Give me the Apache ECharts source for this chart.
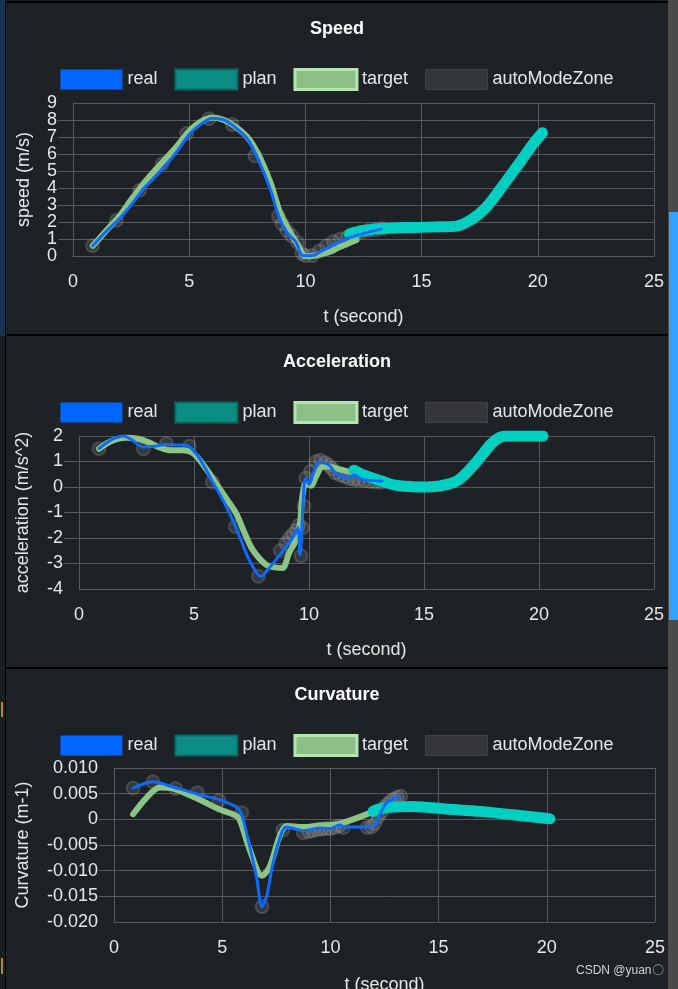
<!DOCTYPE html>
<html><head><meta charset="utf-8">
<script src="https://cdn.jsdelivr.net/npm/echarts@6/dist/echarts.min.js"></script>
<style>
html,body{margin:0;padding:0;background:#1e2226;width:678px;height:989px;overflow:hidden;}
#chart{position:absolute;left:6px;top:0;width:662px;height:989px;}
.ln{position:absolute;background:#000;pointer-events:none;z-index:5}
.bx{position:absolute;pointer-events:none}
</style></head><body>
<div class="bx" style="left:0;top:0;width:5px;height:336px;background:#163556"></div>
<div class="bx" style="left:0;top:336px;width:5px;height:653px;background:#1b1e21"></div>
<div class="bx" style="left:1px;top:702px;width:2px;height:15px;background:#b58c1c"></div>
<div class="bx" style="left:1px;top:958px;width:2px;height:16px;background:#b58c1c"></div>
<div class="bx" style="left:668px;top:0;width:10px;height:989px;background:#4a4a4a"></div>
<div class="bx" style="left:669px;top:212px;width:9px;height:408px;background:#33a1ff"></div>
<div id="chart"></div>
<div class="ln" style="left:5px;top:0;width:1px;height:989px"></div>
<div class="ln" style="left:5px;top:1px;width:663px;height:2px"></div>
<div class="ln" style="left:5px;top:334px;width:663px;height:2px"></div>
<div class="ln" style="left:5px;top:667px;width:663px;height:2px"></div>
<script>
// ---------- DATA ----------
const legendNames = ['real', 'plan', 'target', 'autoModeZone'];
const chartTitles = ['Speed', 'Acceleration', 'Curvature'];
const yNames = ['speed (m/s)', 'acceleration (m/s^2)', 'Curvature (m-1)'];
const xName = 't (second)';

// Speed [t, v]
const speedReal = [[0.85,0.6],[1.5,1.55],[2,2.2],[2.5,3.0],[3,3.9],[3.5,4.6],[4,5.35],[4.5,6.2],[5,7.15],[5.5,7.75],[6,8.1],[6.5,8.0],[7,7.55],[7.5,6.9],[8,5.6],[8.5,3.9],[8.85,2.35],[9.2,1.4],[9.6,0.8],[9.85,0.05],[10.1,0.02],[10.4,0.06],[10.7,0.3],[11.06,0.55],[11.4,0.8],[11.78,1.04],[12.5,1.33],[13.25,1.58]];
const speedTarget = [[0.85,0.6],[1.5,1.6],[2,2.35],[2.5,3.3],[3,4.2],[3.5,5.0],[4,5.75],[4.5,6.5],[5,7.35],[5.5,7.9],[6,8.15],[6.5,8.0],[7,7.6],[7.5,7.0],[8,5.9],[8.5,4.3],[8.9,2.6],[9.3,1.5],[9.7,0.6],[10.0,-0.03],[10.3,0.0],[10.7,0.12],[11.06,0.25],[11.5,0.55],[11.78,0.7],[12.2,0.94]];
const speedPlan = [[11.9,1.3],[12.5,1.5],[13.2,1.62],[14,1.66],[14.7,1.68],[15.8,1.72],[16.5,1.76],[17.2,2.2],[17.8,2.9],[18.5,4.15],[19.25,5.54],[19.8,6.6],[20.2,7.25]];
const speedAuto = [[0.84,0.6],[1.87,2.1],[2.87,3.87],[3.85,5.44],[4.89,7.2],[5.85,8.08],[6.85,7.73],[7.83,5.89],[8.84,2.35],[9.0,1.9],[9.2,1.5],[9.4,1.2],[9.67,0.78],[9.85,0.15],[10.0,0.02],[10.3,0.03],[10.6,0.3],[10.9,0.6],[11.2,0.85],[11.5,1.0],[11.8,1.12],[12.1,1.3],[12.4,1.4],[12.7,1.5],[13.0,1.55],[13.3,1.6]];

// Acceleration [t, a]
const accelReal = [[0.87,1.51],[1.4,1.85],[1.92,2.0],[2.3,1.85],[2.78,1.57],[3.3,1.6],[3.8,1.67],[4.3,1.65],[4.66,1.64],[5.09,1.31],[5.45,0.8],[5.81,0.2],[6.25,-0.5],[6.68,-1.29],[7.05,-2.1],[7.4,-2.86],[7.91,-3.51],[8.2,-3.25],[8.56,-2.86],[9.0,-2.35],[9.42,-1.81],[9.52,-1.6],[9.61,-2.66],[9.78,0.0],[9.86,0.33],[10.0,0.1],[10.2,0.55],[10.43,0.98],[10.87,0.86],[11.15,0.54],[11.5,0.4],[11.73,0.33],[11.95,0.47],[12.3,0.3],[13.17,0.24]];
const accelTarget = [[0.87,1.5],[1.4,1.8],[2.06,1.93],[2.6,1.88],[3.06,1.74],[3.5,1.55],[3.94,1.44],[4.5,1.44],[5.0,1.3],[5.5,0.75],[5.96,0.14],[6.4,-0.45],[6.83,-1.03],[7.2,-1.8],[7.55,-2.46],[8.13,-3.05],[8.5,-3.15],[8.85,-3.18],[9.13,-2.6],[9.42,-2.1],[9.6,-1.5],[9.71,-0.38],[9.86,0.14],[10.1,0.05],[10.3,0.4],[10.58,0.79],[10.87,0.8],[11.3,0.7],[11.73,0.6],[12.0,0.55]];
const accelPlan = [[11.95,0.66],[12.3,0.5],[13.03,0.27],[13.75,0.07],[14.5,0.01],[15.1,0.0],[15.77,0.05],[16.49,0.27],[17.22,0.92],[17.93,1.7],[18.3,1.95],[18.66,2.0],[19.5,2.0],[20.17,2.0]];
const accelAuto = [[0.87,1.5],[1.9,2.05],[2.8,1.5],[3.8,1.7],[4.8,1.6],[5.8,0.2],[6.8,-1.55],[7.8,-3.5],[8.75,-2.5],[9.0,-2.2],[9.15,-2.0],[9.3,-1.85],[9.45,-1.7],[9.55,-1.5],[9.65,-2.7],[9.72,-1.6],[9.78,-0.75],[9.86,0.35],[10.07,0.62],[10.3,1.0],[10.5,1.05],[10.7,0.95],[10.87,0.85],[11.0,0.72],[11.15,0.55],[11.35,0.47],[11.55,0.4],[11.75,0.33],[11.95,0.3],[12.15,0.28],[12.4,0.25],[12.65,0.22],[12.9,0.2],[13.15,0.18]];

// Curvature [t, k]
const curvReal = [[0.88,0.0061],[1.8,0.0073],[2.73,0.0063],[3.96,0.0048],[4.89,0.0038],[5.66,0.0024],[5.9,0.0009],[6.2,-0.004],[6.58,-0.0111],[6.84,-0.017],[7.05,-0.015],[7.35,-0.0085],[7.74,-0.0027],[7.97,-0.0015],[8.74,-0.0022],[9.51,-0.0017],[9.97,-0.0018],[10.43,-0.0011],[10.64,-0.0015],[11.97,-0.0014],[12.28,0.0009],[12.59,0.0032],[13.2,0.0045]];
const curvTarget = [[0.88,0.001],[1.5,0.0042],[2.11,0.0062],[2.73,0.006],[3.96,0.0038],[4.89,0.0019],[5.55,0.0009],[5.8,0.0],[6.27,-0.0059],[6.84,-0.011],[7.2,-0.0092],[7.65,-0.0033],[7.97,-0.0013],[8.74,-0.0015],[9.51,-0.0012],[10.3,-0.001],[11.05,0.0],[11.9,0.00135],[12.1,0.0017]];
const curvPlan = [[11.97,0.00155],[12.43,0.0022],[13.82,0.0025],[15.37,0.002],[16.91,0.00155],[18.45,0.0009],[20.14,0.0001]];
const curvAuto = [[0.88,0.0061],[1.8,0.0073],[2.84,0.006],[3.85,0.0052],[4.85,0.0037],[5.9,0.0013],[6.84,-0.017],[7.8,-0.0021],[8.75,-0.0026],[9.0,-0.0024],[9.2,-0.0022],[9.4,-0.002],[9.6,-0.0019],[9.8,-0.0018],[10.0,-0.0018],[10.2,-0.0016],[10.4,-0.0013],[10.6,-0.0016],[11.7,-0.0016],[11.9,-0.0015],[12.05,-0.0008],[12.2,0.0004],[12.35,0.0014],[12.5,0.0024],[12.65,0.003],[12.8,0.0036],[12.95,0.004],[13.1,0.0043],[13.25,0.0045]];

// axis ranges
const yRanges = [{min:0,max:9,interval:1},{min:-4,max:2,interval:1},{min:-0.02,max:0.01,interval:0.005}];

// ---------- STYLE ----------
const FONT = '"Liberation Sans", Arial, sans-serif';
const TXT = '#e6e6e6';
const GRIDC = '#575a5d';
const grids = [
  {left:67, top:103, width:581, height:153},
  {left:73, top:436, width:575, height:153},
  {left:108, top:768, width:541, height:154}
];
const titleTops = [20, 353, 686];
const legendTops = [68, 401, 734];
const yNameGaps = [40, 47, 82];
const xNameGaps = [52, 52, 54];

const chart = echarts.init(document.getElementById('chart'), null, {renderer:'canvas'});

const legendData = [
  {name:'real', itemStyle:{color:'#0066ff', borderWidth:0}},
  {name:'plan', itemStyle:{color:'#0b8d84', borderColor:'#086b64', borderWidth:2}},
  {name:'target', itemStyle:{color:'#8cc088', borderColor:'#b5e6ad', borderWidth:3}},
  {name:'autoModeZone', itemStyle:{color:'#393c40', borderColor:'#46494d', borderWidth:1}}
];

const datasets = [
  [speedReal, speedPlan, speedTarget, speedAuto],
  [accelReal, accelPlan, accelTarget, accelAuto],
  [curvReal, curvPlan, curvTarget, curvAuto]
];

const fmtY = (i) => (v) => {
  if (i === 2) return Math.abs(v) < 1e-9 ? '0' : v.toFixed(3);
  return String(v);
};
const isEnd = (i, v) => Math.abs(v - yRanges[i].min) < 1e-9 || Math.abs(v - yRanges[i].max) < 1e-9;

const labelBase = {color: TXT, fontSize: 18, fontFamily: FONT, margin: 16, hideOverlap: false};

// primary y axes: ticks, grid lines, inner labels
const yPrimary = grids.map((g, i) => ({
  type: 'value', gridIndex: i, position: 'left',
  min: yRanges[i].min, max: yRanges[i].max, interval: yRanges[i].interval,
  name: yNames[i], nameLocation: 'middle', nameGap: yNameGaps[i], nameRotate: 90, nameMoveOverlap: false,
  nameTextStyle: {color: TXT, fontSize: 18, fontFamily: FONT},
  axisLine: {show: true, lineStyle: {color: GRIDC}},
  axisTick: {show: true, length: 15, lineStyle: {color: GRIDC}},
  axisLabel: Object.assign({}, labelBase, {showMinLabel: false, showMaxLabel: false, formatter: fmtY(i)}),
  splitLine: {show: true, lineStyle: {color: GRIDC, width: 1}}
}));
// overlay y axes: only the end labels (min / max)
const yEnds = grids.map((g, i) => ({
  type: 'value', gridIndex: i, position: 'left', offset: 0,
  min: yRanges[i].min, max: yRanges[i].max, interval: yRanges[i].interval,
  axisLine: {show: false}, axisTick: {show: false}, splitLine: {show: false},
  axisLabel: Object.assign({}, labelBase, {showMinLabel: true, showMaxLabel: true,
    formatter: (v) => isEnd(i, v) ? fmtY(i)(v) : ''})
}));

const option = {
  backgroundColor: '#1e2226',
  animation: false,
  textStyle: {fontFamily: FONT},
  title: chartTitles.map((t, i) => ({
    text: t, left: 'center', top: titleTops[i], padding: 0,
    textStyle: {color: '#ffffff', fontSize: 18, fontWeight: 'bold', fontFamily: FONT}
  })),
  legend: legendTops.map((tp) => ({
    top: tp, left: 'center', padding: 0, orient: 'horizontal',
    icon: 'rect', itemWidth: 62, itemHeight: 20, itemGap: 17,
    textStyle: {color: TXT, fontSize: 18, fontFamily: FONT},
    data: legendData
  })),
  grid: grids.map(g => Object.assign({outerBoundsMode: 'none', containLabel: false}, g)),
  xAxis: grids.map((g, i) => ({
    type: 'value', gridIndex: i, min: 0, max: 25, interval: 5,
    name: xName, nameLocation: 'middle', nameGap: xNameGaps[i], nameMoveOverlap: false,
    nameTextStyle: {color: TXT, fontSize: 18, fontFamily: FONT},
    axisLine: {show: true, lineStyle: {color: GRIDC}},
    axisTick: {show: false},
    axisLabel: {color: TXT, fontSize: 18, fontFamily: FONT, margin: 17,
      showMinLabel: true, showMaxLabel: true, hideOverlap: false},
    splitLine: {show: true, lineStyle: {color: GRIDC, width: 1}}
  })),
  yAxis: yPrimary.concat(yEnds),
  series: [],
  graphic: [{
    type: 'text', left: 570, top: 965, z: 100,
    style: {text: 'CSDN @yuan〇', fill: '#cfd2d6', font: '12px ' + FONT}
  }]
};

datasets.forEach((ds, i) => {
  const [real, plan, target, auto] = ds;
  option.series.push({
    name: 'autoModeZone', type: 'scatter', xAxisIndex: i, yAxisIndex: i, z: 1,
    symbol: 'circle', symbolSize: 13, data: auto,
    itemStyle: {color: 'rgba(150,150,150,0.25)', borderColor: 'rgba(170,170,170,0.3)', borderWidth: 2},
    emphasis: {disabled: true}
  });
  option.series.push({
    name: 'target', type: 'line', xAxisIndex: i, yAxisIndex: i, z: 2,
    smooth: 0.3, symbol: 'none', data: target,
    lineStyle: {color: '#8bc486', width: 6, cap: 'round', join: 'round'},
    itemStyle: {color: '#8cc088'}
  });
  option.series.push({
    name: 'plan', type: 'line', xAxisIndex: i, yAxisIndex: i, z: 3,
    smooth: 0.3, symbol: 'none', data: plan,
    lineStyle: {color: '#00cfc1', width: 11, cap: 'round', join: 'round'},
    itemStyle: {color: '#0b8d84'}
  });
  option.series.push({
    name: 'real', type: 'line', xAxisIndex: i, yAxisIndex: i, z: 4,
    smooth: 0.3, symbol: 'none', data: real,
    lineStyle: {color: '#0a6cff', width: 3, cap: 'round', join: 'round'},
    itemStyle: {color: '#0066ff'}
  });
});

chart.setOption(option);
</script>
</body></html>
